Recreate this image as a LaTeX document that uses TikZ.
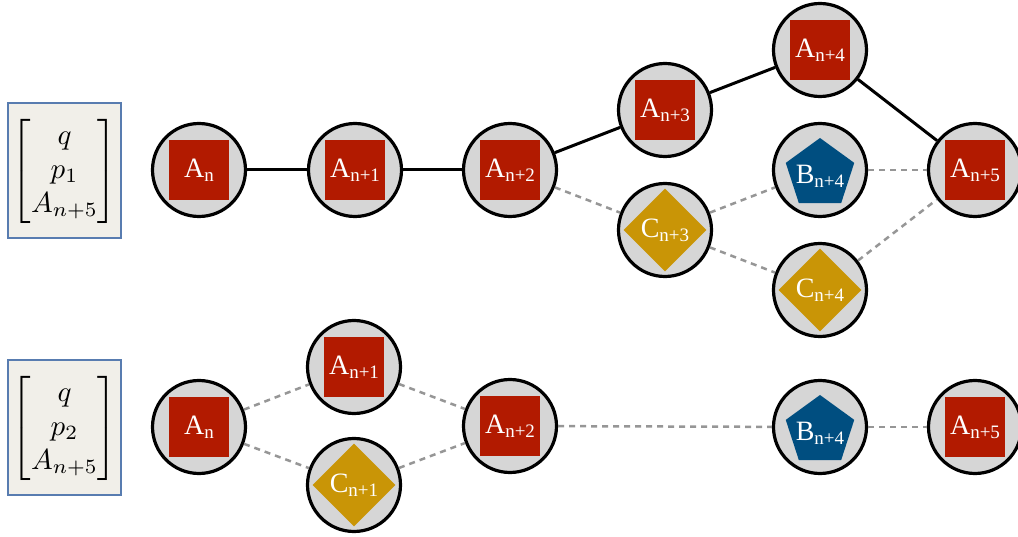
\documentclass[tikz,border=0pt]{standalone}
\usepackage{amsmath}
\usepackage{graphicx}
\usepackage{fontspec}
\usetikzlibrary{shapes.geometric}
\newfontfamily\labfont{Liberation Serif}
\definecolor{ared}{RGB}{178,26,0}
\definecolor{agold}{RGB}{201,149,6}
\definecolor{ablue}{RGB}{0,78,128}
\definecolor{cgray}{RGB}{214,214,214}
\definecolor{dgray}{RGB}{150,150,150}
\definecolor{boxbg}{RGB}{241,239,233}
\definecolor{boxline}{RGB}{88,124,176}
\newcommand{\nlab}[2]{#1\raisebox{-0.14em}{\fontsize{19}{19}\selectfont #2}}
\newcommand{\statevec}[1]{\scalebox{2.9}{$\renewcommand{\arraystretch}{0.98}\left[\begin{matrix} q\\ #1\\ A_{n+5}\end{matrix}\right]$}}
\tikzset{
  st/.style={circle, draw=black, line width=3.2pt, fill=cgray, minimum size=93pt, inner sep=0pt},
  lb/.style={text=white, font=\labfont\fontsize{28}{28}\selectfont, inner sep=0pt},
  sq/.style={lb, rectangle, fill=ared, minimum size=60pt},
  dm/.style={lb, diamond, aspect=1, fill=agold, minimum width=83pt, minimum height=83pt},
  pg/.style={regular polygon, regular polygon sides=5, fill=ablue, minimum size=72pt, inner sep=0pt},
  sedge/.style={line width=3pt, black},
  dedge/.style={line width=2.5pt, dgray, dash pattern=on 6pt off 5pt},
  vbox/.style={draw=boxline, fill=boxbg, line width=1.5pt, minimum width=113pt, minimum height=135pt, inner sep=0pt},
  vtext/.style={inner sep=0pt}
}
\begin{document}
\begin{tikzpicture}[x=1pt,y=-1pt]
\useasboundingbox (0,0) rectangle (1018,537);
% vector boxes
\node[vbox] (v1) at (64.5,170.5) {};
\node[vtext] (t1) at (64.5,171.5) {\statevec{p_1}};
\node[vbox] (v2) at (64.5,427.5) {};
\node[vtext] (t2) at (64.5,428.5) {\statevec{p_2}};
% row 1 states
\node[st] (a0) at (199,170) {};
\node[st] (a1) at (355,170) {};
\node[st] (a2) at (510,170) {};
\node[st] (a3) at (665,110) {};
\node[st] (c3) at (665,230) {};
\node[st] (a4) at (820,50) {};
\node[st] (b4) at (820,170) {};
\node[st] (c4) at (820,290) {};
\node[st] (a5) at (975,170) {};
% row 2 states
\node[st] (r0) at (199,427) {};
\node[st] (r1) at (354,367) {};
\node[st] (rc1) at (354,485) {};
\node[st] (r2) at (510,426) {};
\node[st] (rb4) at (820,427) {};
\node[st] (r5) at (975,427) {};
% edges row 1
\draw[sedge] (a0) -- (a1);
\draw[sedge] (a1) -- (a2);
\draw[sedge] (a2) -- (a3);
\draw[sedge] (a3) -- (a4);
\draw[sedge] (a4) -- (a5);
\draw[dedge] (a2) -- (c3);
\draw[dedge] (c3) -- (b4);
\draw[dedge] (c3) -- (c4);
\draw[dedge] (b4) -- (a5);
\draw[dedge] (c4) -- (a5);
% edges row 2
\draw[dedge] (r0) -- (r1);
\draw[dedge] (r0) -- (rc1);
\draw[dedge] (r1) -- (r2);
\draw[dedge] (rc1) -- (r2);
\draw[dedge] (r2) -- (rb4);
\draw[dedge] (rb4) -- (r5);
% inner shapes row 1
\node[sq] (ia0) at (a0) {\nlab{A}{n}};
\node[sq] (ia1) at (a1) {\nlab{A}{n+1}};
\node[sq] (ia2) at (a2) {\nlab{A}{n+2}};
\node[sq] (ia3) at (a3) {\nlab{A}{n+3}};
\node[dm] (ic3) at (c3) {\nlab{C}{n+3}};
\node[sq] (ia4) at (a4) {\nlab{A}{n+4}};
\node[pg, yshift=-4pt] (ib4) at (b4) {};
\node[lb, yshift=-6pt] (lb4) at (b4) {\nlab{B}{n+4}};
\node[dm] (ic4) at (c4) {\nlab{C}{n+4}};
\node[sq] (ia5) at (a5) {\nlab{A}{n+5}};
% inner shapes row 2
\node[sq] (ir0) at (r0) {\nlab{A}{n}};
\node[sq] (ir1) at (r1) {\nlab{A}{n+1}};
\node[dm] (irc1) at (rc1) {\nlab{C}{n+1}};
\node[sq] (ir2) at (r2) {\nlab{A}{n+2}};
\node[pg, yshift=-4pt] (irb4) at (rb4) {};
\node[lb, yshift=-6pt] (lrb4) at (rb4) {\nlab{B}{n+4}};
\node[sq] (ir5) at (r5) {\nlab{A}{n+5}};
\end{tikzpicture}
\end{document}
